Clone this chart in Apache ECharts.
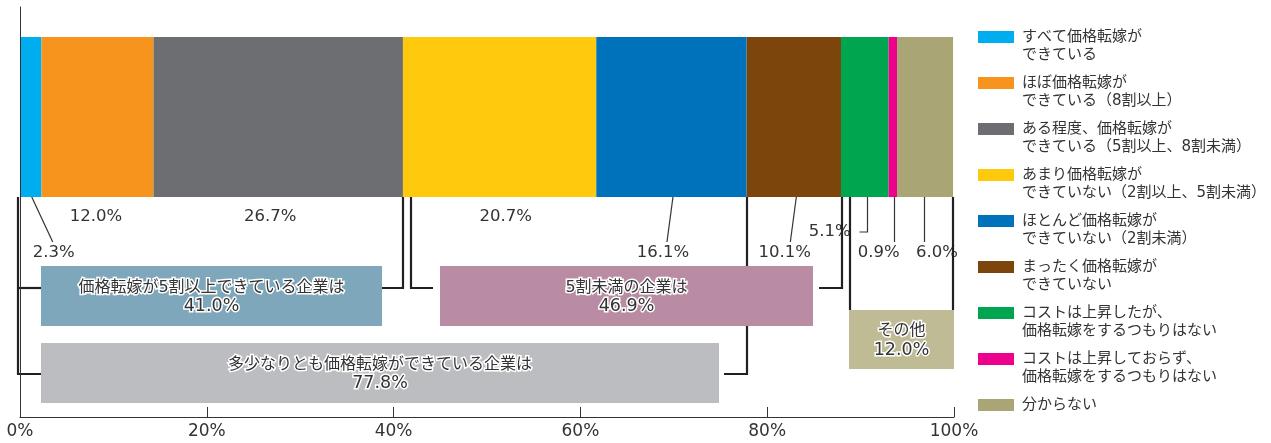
<!DOCTYPE html>
<html lang="ja">
<head>
<meta charset="utf-8">
<style>
  html, body { margin: 0; padding: 0; background: #fff; }
  #chart { width: 1271px; height: 443px; }
</style>
<script src="https://cdn.jsdelivr.net/npm/echarts@6/dist/echarts.min.js"></script>
</head>
<body>
<div id="chart"></div>
<script>
// 価格転嫁の状況（回答割合、%）
const categories = [
  'すべて価格転嫁が\nできている',
  'ほぼ価格転嫁が\nできている（8割以上）',
  'ある程度、価格転嫁が\nできている（5割以上、8割未満）',
  'あまり価格転嫁が\nできていない（2割以上、5割未満）',
  'ほとんど価格転嫁が\nできていない（2割未満）',
  'まったく価格転嫁が\nできていない',
  'コストは上昇したが、\n価格転嫁をするつもりはない',
  'コストは上昇しておらず、\n価格転嫁をするつもりはない',
  '分からない'
];
const shares = [2.3, 12.0, 26.7, 20.7, 16.1, 10.1, 5.1, 0.9, 6.0];

// x axis ticks (%)
const xTicks = [0, 20, 40, 60, 80, 100];

// grouped totals: title and member categories
const groupTitles = [
  '価格転嫁が5割以上できている企業は',
  '5割未満の企業は',
  '多少なりとも価格転嫁ができている企業は',
  'その他'
];
const groupMembers = [[0, 1, 2], [3, 4, 5], [0, 1, 2, 3, 4], [6, 7, 8]];

// ---- styling ----
const FONT = "'DejaVu Sans', 'Noto Sans CJK JP', sans-serif";
const TEXT = '#333';
const colors = ['#00ADEE', '#F7941E', '#6D6E72', '#FFC90D', '#0071BB', '#7B450B', '#00A550', '#EC008C', '#A9A574'];
const boxColors = ['#7FA7BB', '#B98CA3', '#BCBDC0', '#BFBB95'];

const BAR = { left: 20, top: 37, width: 934, height: 160 };
const BAR_BOTTOM = BAR.top + BAR.height;

// label placement under the bar: distance below bar, horizontal shift,
// and leader line type with start/end offsets from the segment centre
const labelPlace = [
  { dist: 47, dx: 23,  lead: { kind: 'slant', s: 1, e: 22 } },
  { dist: 11, dx: -1.5 },
  { dist: 11, dx: -8 },
  { dist: 11, dx: 6 },
  { dist: 47, dx: -8.5, lead: { kind: 'slant', s: 1.5, e: -4.5 } },
  { dist: 47, dx: -9,  lead: { kind: 'slant', s: 2.5, e: -3.5 } },
  { dist: 26, dx: -35, lead: { kind: 'elbow', s: 2, e: -8 } },
  { dist: 47, dx: -14, lead: { kind: 'vert', s: 1 } },
  { dist: 47, dx: 12,  lead: { kind: 'vert', s: -1 } }
];

const cum = [0];
shares.forEach((s, i) => cum.push(+(cum[i] + s).toFixed(1)));
const groupTotals = groupMembers.map(m => +m.reduce((a, i) => a + shares[i], 0).toFixed(1));
const groupRange = groupMembers.map(m => [cum[m[0]], cum[m[m.length - 1] + 1]]);

const option = {
  animation: false,
  textStyle: { fontFamily: FONT },
  grid: [
    { left: BAR.left, top: BAR.top, width: BAR.width, height: BAR.height },
    { left: BAR.left, top: 7, width: BAR.width, bottom: 26 }
  ],
  xAxis: [
    { gridIndex: 0, type: 'value', min: 0, max: 100, show: false },
    {
      gridIndex: 1, type: 'value', z: 10,
      min: xTicks[0], max: xTicks[xTicks.length - 1], interval: xTicks[1] - xTicks[0],
      axisLine: { show: true, lineStyle: { color: TEXT, width: 1 } },
      axisTick: { show: true, inside: true, length: 10, lineStyle: { color: TEXT, width: 1 } },
      splitLine: { show: false },
      axisLabel: { formatter: '{value}%', fontSize: 17, color: TEXT, margin: 6, fontFamily: FONT }
    }
  ],
  yAxis: [
    { gridIndex: 0, type: 'category', data: [''], show: false },
    {
      gridIndex: 1, type: 'value', min: 0, max: 1, z: 10,
      axisLine: { show: true, lineStyle: { color: TEXT, width: 1 } },
      axisTick: { show: false }, axisLabel: { show: false }, splitLine: { show: false }
    }
  ],
  legend: {
    orient: 'vertical', left: 978, top: 10, padding: 0,
    itemWidth: 36, itemHeight: 12, itemGap: -8, icon: 'rect', selectedMode: false,
    // a spacer line above keeps the first text line level with the swatch
    formatter: name => '\n' + name + (name.indexOf('\n') < 0 ? '\n' : ''),
    textStyle: { fontSize: 15, lineHeight: 18, color: TEXT, fontFamily: FONT, padding: [0, 0, 0, 3] },
    data: categories
  },
  series: shares.map((v, i) => ({
    name: categories[i],
    type: 'bar', stack: 'total', xAxisIndex: 0, yAxisIndex: 0,
    barWidth: '100%',
    data: [v],
    itemStyle: { color: colors[i] },
    label: {
      show: true, position: 'bottom',
      distance: labelPlace[i].dist, offset: [labelPlace[i].dx, 0],
      formatter: p => p.value.toFixed(1) + '%',
      fontSize: 16.5, lineHeight: 18, color: TEXT, fontFamily: FONT
    }
  }))
};

const chart = echarts.init(document.getElementById('chart'), null, { renderer: 'canvas' });
chart.setOption(option);

// leader lines, group brackets and group total boxes, placed on the bar's x scale
function annotate() {
  const px = v => chart.convertToPixel({ xAxisIndex: 0 }, v);
  const els = [];
  const line = (pts, w, color) => els.push({
    type: 'polyline', silent: true, z: 5,
    shape: { points: pts },
    style: { stroke: color, lineWidth: w, fill: null, lineJoin: 'miter', lineCap: 'butt' }
  });

  // leader lines from segments to their labels
  const lowY = BAR_BOTTOM + 45;
  shares.forEach((s, i) => {
    const L = labelPlace[i].lead;
    if (!L) return;
    const c = px(cum[i] + s / 2);
    if (L.kind === 'slant') {
      line([[c + L.s, BAR_BOTTOM], [c + L.e, lowY]], 1.2, TEXT);
    } else if (L.kind === 'vert') {
      const x = Math.round(c + L.s) + 0.5;
      line([[x, BAR_BOTTOM], [x, lowY]], 1.2, TEXT);
    } else if (L.kind === 'elbow') {
      const x = Math.round(c + L.s) + 0.5;
      const y = BAR_BOTTOM + labelPlace[i].dist + 9;
      line([[x, BAR_BOTTOM], [x, y], [x + L.e, y]], 1.2, TEXT);
    }
  });

  const BR = '#231F20', BW = 2.2;
  const r = v => Math.round(px(v));
  const boxes = [];

  // group 0: 0 → 41.0
  {
    const [lo, hi] = groupRange[0];
    const b = { x0: r(lo) + 21, x1: r(hi) - 21, y0: 266, y1: 326 };
    line([[b.x0, 288], [r(lo) - 2, 288]], BW, BR);
    line([[b.x1, 288], [r(hi), 288], [r(hi), BAR_BOTTOM]], BW, BR);
    boxes.push(b);
  }
  // group 1: 41.0 → 87.9
  {
    const [lo, hi] = groupRange[1];
    const b = { x0: r(lo) + 37, x1: r(hi) - 28, y0: 266, y1: 326 };
    line([[r(lo) + 8, BAR_BOTTOM], [r(lo) + 8, 288], [b.x0 - 7, 288]], BW, BR);
    line([[b.x1 + 6, 288], [r(hi) + 1, 288], [r(hi) + 1, BAR_BOTTOM]], BW, BR);
    boxes.push(b);
  }
  // group 2: 0 → 77.8
  {
    const [lo, hi] = groupRange[2];
    const b = { x0: r(lo) + 21, x1: r(hi) - 28, y0: 343, y1: 403 };
    line([[r(lo) - 2, BAR_BOTTOM], [r(lo) - 2, 374], [b.x0, 374]], BW, BR);
    line([[b.x1 + 5, 374], [r(hi), 374], [r(hi), BAR_BOTTOM]], BW, BR);
    boxes.push(b);
  }
  // group 3: 87.9 → end
  {
    const [lo, hi] = groupRange[3];
    const b = { x0: r(lo) + 8, x1: r(hi) + 1, y0: 310, y1: 369 };
    line([[b.x0 + 1, BAR_BOTTOM], [b.x0 + 1, b.y0]], BW, BR);
    line([[b.x1 - 1, BAR_BOTTOM], [b.x1 - 1, b.y0]], BW, BR);
    boxes.push(b);
  }

  boxes.forEach((b, i) => {
    els.push({
      type: 'rect', silent: true, z: 6,
      shape: { x: b.x0, y: b.y0, width: b.x1 - b.x0, height: b.y1 - b.y0 },
      style: { fill: boxColors[i] }
    });
    els.push({
      type: 'text', silent: true, z: 7,
      x: (b.x0 + b.x1) / 2, y: (b.y0 + b.y1) / 2 + 1,
      style: {
        text: '{t|' + groupTitles[i] + '}\n{v|' + groupTotals[i].toFixed(1) + '%}',
        align: 'center', verticalAlign: 'middle',
        fill: TEXT, stroke: '#fff', lineWidth: 3,
        fontFamily: FONT, fontSize: 16,
        rich: {
          t: { fontSize: 16, lineHeight: 19, fontFamily: FONT, fill: TEXT, stroke: '#fff', lineWidth: 3 },
          v: { fontSize: 17.5, lineHeight: 19, fontFamily: FONT, fill: TEXT, stroke: '#fff', lineWidth: 3 }
        }
      }
    });
  });

  chart.setOption({ graphic: { elements: els } });
}
annotate();
</script>
</body>
</html>
